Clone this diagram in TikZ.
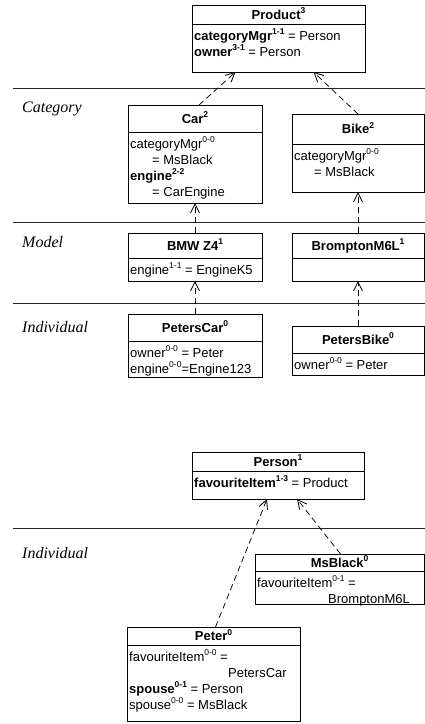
\documentclass[tikz,border=0pt]{standalone}
\usepackage{fontspec}
\setmainfont{Liberation Sans}
\newfontfamily\layerfont{Liberation Serif}
\usetikzlibrary{arrows.meta}

% level index written as a small raised tag
\newcommand\lvl[1]{\raisebox{0.42em}{\fontsize{8.5}{8.5}\selectfont #1}}

\tikzset{
  frame/.style={draw, line width=0.8pt, inner sep=0pt, outer sep=0pt, anchor=north west},
  frameline/.style={line width=0.8pt},
  title/.style={anchor=base, inner sep=0pt, font=\fontsize{13}{16}\selectfont\bfseries},
  body/.style={anchor=north west, align=left, inner sep=0pt, font=\fontsize{13}{16}\selectfont},
  layer/.style={anchor=base west, inner sep=0pt, font=\layerfont\itshape\fontsize{16}{18}\selectfont},
  divider/.style={line width=0.8pt, black!85},
  dep/.style={dash pattern=on 6pt off 4pt, line width=0.75pt,
    -{Straight Barb[length=9pt,width=9pt,line width=0.85pt]}}
}

% #1 name, #2 x, #3 y, #4 width, #5 height, #6 header height, #7 title, #8 attributes
\newcommand\umlbox[8]{%
  \node[frame, minimum width=#4pt, minimum height=#5pt] (#1) at (#2,#3) {};
  \draw[frameline] ([yshift=-#6pt]#1.north west) -- ([yshift=-#6pt]#1.north east);
  \node[title] (#1-title) at ([yshift=-0.5*#6pt-4.7pt]#1.north) {#7};
  \node[body] (#1-attrs) at ([xshift=2pt,yshift=-#6pt-3.5pt]#1.north west)
    {\rule{0pt}{12.5pt}#8};
}

\begin{document}
\begin{tikzpicture}[x=1pt,y=-1pt]
\useasboundingbox (0,0) rectangle (425,724);

% layer dividers and layer names
\draw[divider] (13,88) -- (425,88);
\draw[divider] (13,222) -- (425,222);
\draw[divider] (13,303) -- (425,303);
\draw[divider] (13,528) -- (425,528);
\node[layer] (lCategory) at (22,112) {Category};
\node[layer] (lModel) at (22,247) {Model};
\node[layer] (lIndividual) at (22,332) {Individual};
\node[layer] (lIndividualB) at (22,558) {Individual};

% product hierarchy
\umlbox{product}{192}{5}{173}{67}{19}{Product\lvl{3}}
  {\textbf{categoryMgr\lvl{1-1}} = Person\\\textbf{owner\lvl{3-1}} = Person}
\umlbox{car}{128}{105}{134}{98}{27}{Car\lvl{2}}
  {categoryMgr\lvl{0-0}\\\hspace*{22pt}= MsBlack\\\textbf{engine\lvl{2-2}}\\\hspace*{22pt}= CarEngine}
\umlbox{bike}{292}{114}{132}{78}{30}{Bike\lvl{2}}
  {categoryMgr\lvl{0-0}\\\hspace*{20pt}= MsBlack}
\umlbox{bmw}{128}{233}{134}{48}{25}{BMW Z4\lvl{1}}
  {engine\lvl{1-1} = EngineK5}
\umlbox{brompton}{292}{233}{132}{48}{25}{BromptonM6L\lvl{1}}
  {}
\umlbox{peterscar}{128}{314}{134}{63}{27}{PetersCar\lvl{0}}
  {owner\lvl{0-0} = Peter\\engine\lvl{0-0}=Engine123}
\umlbox{petersbike}{292}{326}{132}{49}{27}{PetersBike\lvl{0}}
  {owner\lvl{0-0} = Peter}

% person hierarchy
\umlbox{person}{192}{452}{172}{47}{19}{Person\lvl{1}}
  {\textbf{favouriteItem\lvl{1-3}} = Product}
\umlbox{msblack}{255}{554}{169}{50}{17}{MsBlack\lvl{0}}
  {favouriteItem\lvl{0-1} =\\\hspace*{71pt}BromptonM6L}
\umlbox{peter}{127}{627}{173}{94}{18}{Peter\lvl{0}}
  {favouriteItem\lvl{0-0} =\\\hspace*{99pt}PetersCar\\\textbf{spouse\lvl{0-1}} = Person\\spouse\lvl{0-0} = MsBlack}

% instance-of dependencies
\draw[dep] ([xshift=4pt]car.north) -- ([xshift=-43pt]product.south);
\draw[dep] (bike.north) -- ([xshift=35pt]product.south);
\draw[dep] (bmw.north) -- (car.south);
\draw[dep] (brompton.north) -- (bike.south);
\draw[dep] (peterscar.north) -- (bmw.south);
\draw[dep] (petersbike.north) -- (brompton.south);
\draw[dep] ([xshift=2pt]peter.north) -- ([xshift=-11pt]person.south);
\draw[dep] ([xshift=1pt]msblack.north) -- ([xshift=19pt]person.south);
\end{tikzpicture}
\end{document}
